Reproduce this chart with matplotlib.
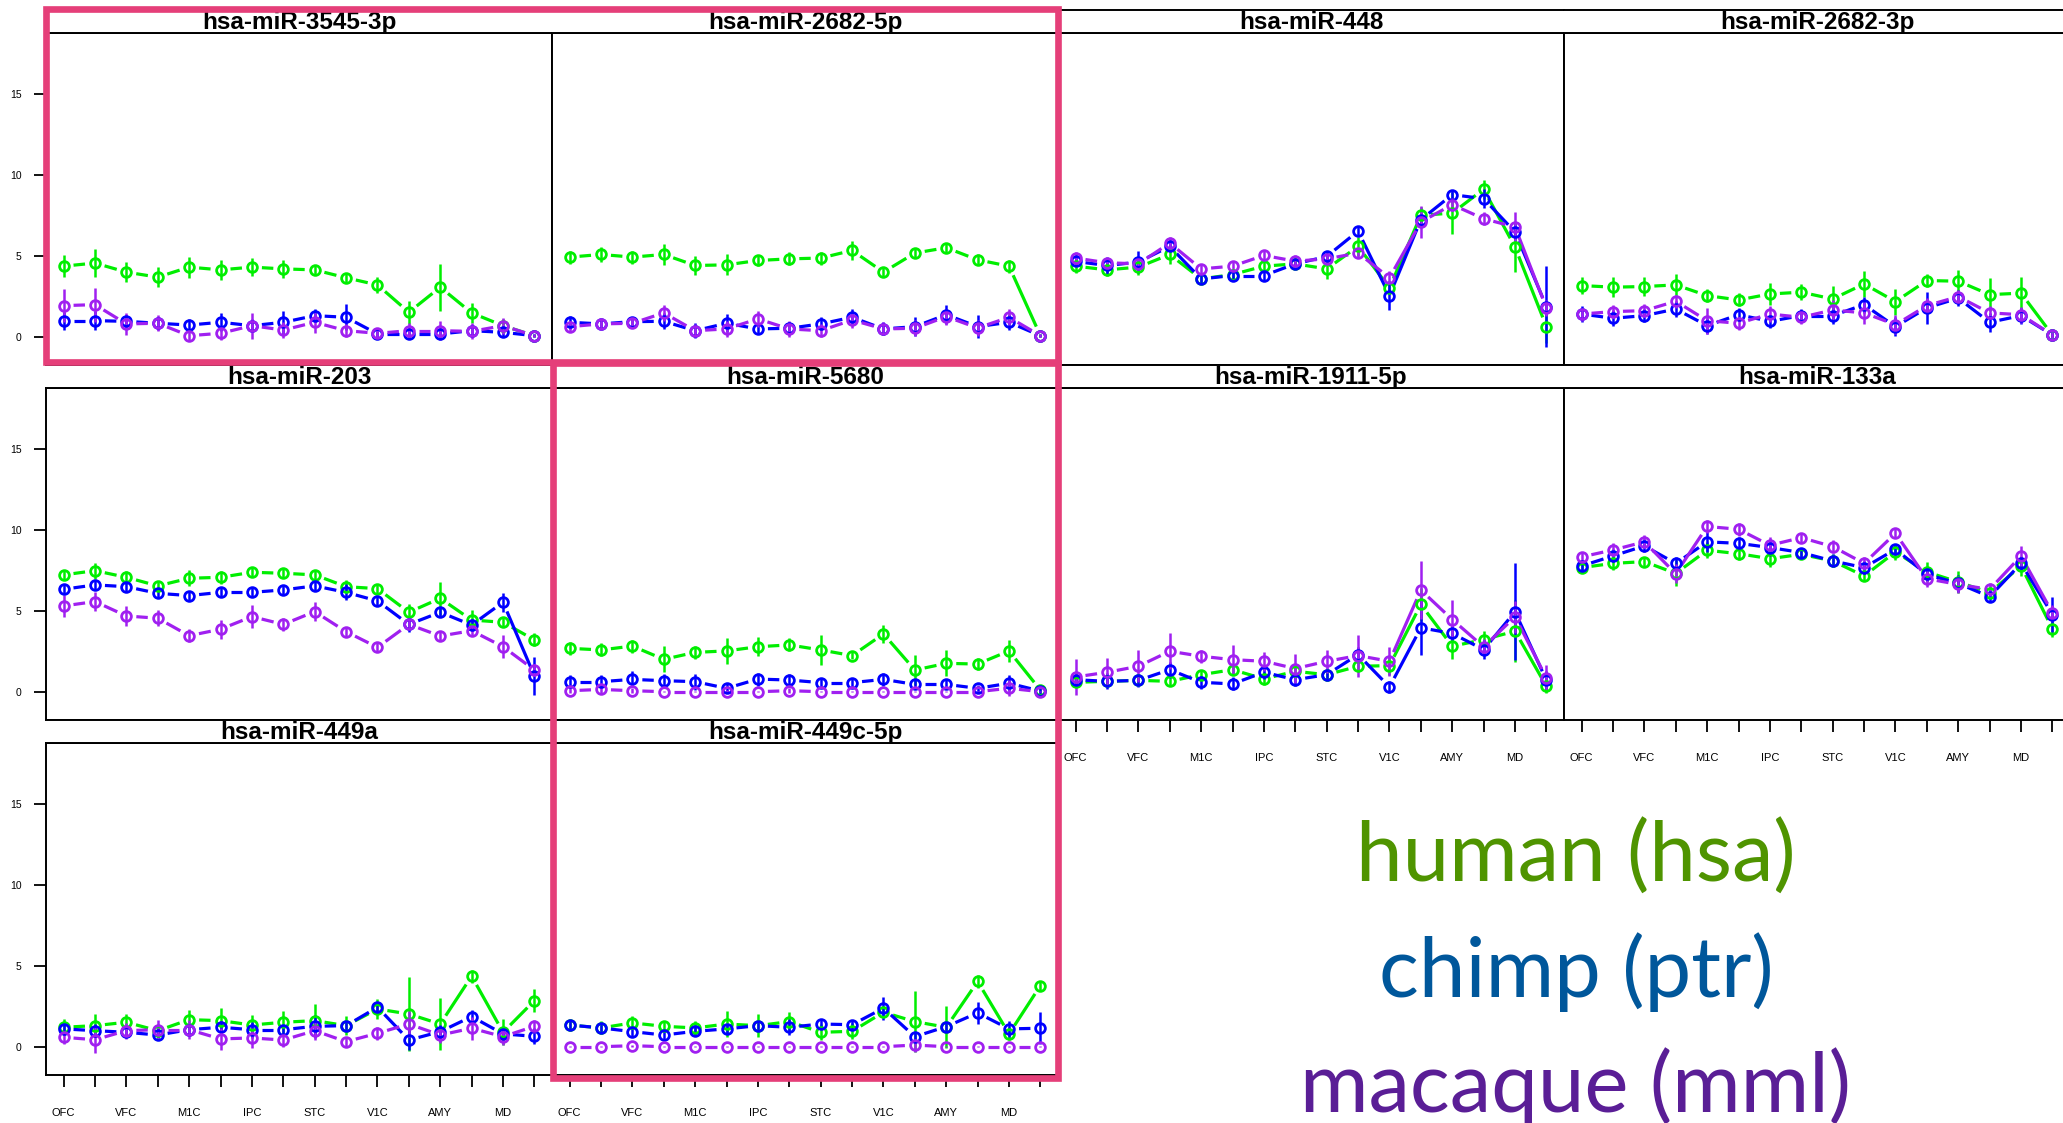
import numpy as np
import matplotlib
matplotlib.use("Agg")
import matplotlib.pyplot as plt
from matplotlib.patches import Rectangle

plt.rcParams["font.family"] = ["Liberation Sans", "DejaVu Sans"]

W, H = 2063, 1123

regions = ["OFC", "DFC", "VFC", "MFC", "M1C", "S1C", "IPC", "A1C",
           "STC", "ITC", "V1C", "HIP", "AMY", "STR", "MD", "CBC"]

mirnas = ["hsa-miR-3545-3p", "hsa-miR-2682-5p", "hsa-miR-448", "hsa-miR-2682-3p",
          "hsa-miR-203", "hsa-miR-5680", "hsa-miR-1911-5p", "hsa-miR-133a",
          "hsa-miR-449a", "hsa-miR-449c-5p"]

# mean expression per region, one row per miRNA
human_mean = [
    [4.36, 4.55, 3.99, 3.68, 4.30, 4.13, 4.30, 4.19, 4.13, 3.64, 3.20, 1.51, 3.06, 1.47, 0.68, 0.06],
    [4.92, 5.08, 4.92, 5.08, 4.40, 4.44, 4.71, 4.81, 4.86, 5.33, 3.99, 5.17, 5.50, 4.75, 4.36, 0.06],
    [4.36, 4.13, 4.30, 5.08, 3.57, 3.84, 4.36, 4.50, 4.19, 5.58, 3.02, 7.50, 7.64, 9.11, 5.54, 0.62],
    [3.16, 3.06, 3.10, 3.20, 2.54, 2.27, 2.64, 2.75, 2.33, 3.26, 2.17, 3.47, 3.43, 2.60, 2.69, 0.10],
    [7.22, 7.48, 7.07, 6.54, 7.01, 7.07, 7.38, 7.32, 7.22, 6.49, 6.37, 4.91, 5.77, 4.43, 4.29, 3.20],
    [2.68, 2.58, 2.82, 2.00, 2.43, 2.52, 2.78, 2.89, 2.58, 2.23, 3.57, 1.34, 1.75, 1.71, 2.52, 0.10],
    [0.58, 0.64, 0.70, 0.64, 1.05, 1.36, 0.79, 1.26, 1.05, 1.57, 1.61, 5.39, 2.81, 3.22, 3.74, 0.33],
    [7.67, 7.93, 8.04, 7.31, 8.74, 8.53, 8.22, 8.49, 8.08, 7.15, 8.64, 7.40, 6.78, 6.12, 7.77, 3.88],
    [1.20, 1.30, 1.51, 0.99, 1.67, 1.61, 1.34, 1.51, 1.61, 1.30, 2.33, 2.02, 1.40, 4.36, 0.89, 2.85],
    [1.34, 1.16, 1.47, 1.26, 1.16, 1.40, 1.30, 1.55, 0.89, 0.95, 2.13, 1.55, 1.20, 4.03, 0.79, 3.78],
]
human_se = [
    [0.67, 0.85, 0.6, 0.6, 0.65, 0.6, 0.55, 0.55, 0.3, 0.3, 0.5, 0.7, 1.45, 0.6, 0.4, 0.1],
    [0.4, 0.45, 0.4, 0.65, 0.6, 0.65, 0.35, 0.4, 0.4, 0.6, 0.3, 0.3, 0.3, 0.35, 0.4, 0.1],
    [0.4, 0.4, 0.5, 0.6, 0.3, 0.3, 0.3, 0.3, 0.6, 0.6, 0.4, 0.5, 1.3, 0.6, 1.55, 1.0],
    [0.5, 0.6, 0.6, 0.7, 0.4, 0.4, 0.7, 0.5, 0.8, 0.8, 0.8, 0.4, 0.7, 1.0, 1.0, 0.2],
    [0.3, 0.5, 0.4, 0.3, 0.5, 0.4, 0.3, 0.3, 0.3, 0.4, 0.3, 0.5, 1.0, 0.6, 0.3, 0.4],
    [0.4, 0.4, 0.4, 0.8, 0.4, 0.8, 0.6, 0.4, 0.95, 0.2, 0.55, 0.9, 0.8, 0.4, 0.7, 0.2],
    [0.3, 0.3, 0.3, 0.3, 0.3, 0.3, 0.4, 0.4, 0.3, 0.3, 0.6, 1.0, 0.8, 0.5, 1.9, 0.4],
    [0.3, 0.4, 0.3, 0.8, 0.5, 0.4, 0.5, 0.3, 0.4, 0.3, 0.5, 0.6, 0.7, 0.4, 0.6, 0.5],
    [0.5, 0.7, 0.5, 0.4, 0.6, 0.8, 0.6, 0.7, 1.0, 0.6, 0.6, 2.3, 1.6, 0.4, 0.8, 0.7],
    [0.4, 0.4, 0.4, 0.3, 0.4, 0.8, 0.7, 0.6, 0.5, 0.5, 0.3, 1.9, 1.3, 0.4, 0.4, 0.3],
]

chimp_mean = [
    [0.99, 0.99, 0.95, 0.83, 0.72, 0.89, 0.68, 0.89, 1.30, 1.20, 0.17, 0.17, 0.17, 0.37, 0.27, 0.06],
    [0.89, 0.79, 0.93, 0.95, 0.37, 0.83, 0.48, 0.52, 0.79, 1.20, 0.48, 0.62, 1.36, 0.62, 0.89, 0.06],
    [4.65, 4.40, 4.61, 5.58, 3.57, 3.78, 3.78, 4.50, 4.96, 6.53, 2.54, 7.23, 8.78, 8.53, 6.47, 1.86],
    [1.40, 1.14, 1.30, 1.71, 0.68, 1.36, 0.95, 1.30, 1.30, 1.98, 0.62, 1.78, 2.38, 0.89, 1.30, 0.10],
    [6.33, 6.60, 6.49, 6.08, 5.94, 6.14, 6.14, 6.29, 6.54, 6.14, 5.61, 4.16, 4.91, 4.12, 5.53, 0.97],
    [0.62, 0.62, 0.76, 0.68, 0.62, 0.21, 0.78, 0.72, 0.56, 0.56, 0.76, 0.45, 0.45, 0.21, 0.52, 0.04],
    [0.74, 0.64, 0.70, 1.36, 0.58, 0.48, 1.20, 0.74, 1.05, 2.29, 0.29, 3.95, 3.60, 2.60, 4.94, 0.70],
    [7.77, 8.39, 9.01, 7.93, 9.26, 9.17, 8.91, 8.60, 8.08, 7.67, 8.80, 7.25, 6.69, 5.87, 7.93, 4.77],
    [1.10, 0.99, 0.89, 0.72, 1.05, 1.20, 1.05, 1.05, 1.26, 1.30, 2.44, 0.41, 0.93, 1.86, 0.79, 0.64],
    [1.34, 1.16, 0.93, 0.72, 0.95, 1.10, 1.30, 1.20, 1.40, 1.36, 2.38, 0.62, 1.24, 2.09, 1.10, 1.14],
]
chimp_se = [
    [0.55, 0.6, 0.4, 0.4, 0.35, 0.55, 0.4, 0.7, 0.4, 0.8, 0.2, 0.3, 0.3, 0.3, 0.3, 0.1],
    [0.4, 0.3, 0.3, 0.5, 0.45, 0.55, 0.3, 0.4, 0.4, 0.5, 0.4, 0.6, 0.6, 0.7, 0.5, 0.1],
    [0.3, 0.5, 0.7, 0.3, 0.3, 0.3, 0.3, 0.3, 0.3, 0.3, 0.9, 0.3, 0.3, 0.6, 0.5, 2.5],
    [0.5, 0.5, 0.4, 0.5, 0.5, 0.4, 0.4, 0.4, 0.5, 0.5, 0.6, 1.0, 0.5, 0.6, 0.5, 0.2],
    [0.3, 0.3, 0.3, 0.3, 0.3, 0.3, 0.3, 0.3, 0.3, 0.5, 0.3, 0.5, 0.3, 0.4, 0.6, 1.2],
    [0.4, 0.4, 0.5, 0.4, 0.5, 0.3, 0.4, 0.4, 0.3, 0.3, 0.4, 0.3, 0.3, 0.2, 0.5, 0.2],
    [0.4, 0.5, 0.4, 0.5, 0.4, 0.4, 0.4, 0.4, 0.4, 0.5, 0.4, 1.7, 0.5, 0.6, 3.0, 0.6],
    [0.3, 0.4, 0.4, 0.4, 0.6, 0.4, 0.5, 0.3, 0.4, 0.4, 0.3, 0.4, 0.5, 0.3, 0.4, 1.1],
    [0.4, 0.4, 0.3, 0.3, 0.3, 0.4, 0.5, 0.3, 0.7, 0.3, 0.3, 0.6, 0.4, 0.4, 0.4, 0.5],
    [0.3, 0.3, 0.3, 0.3, 0.3, 0.3, 0.3, 0.5, 0.3, 0.3, 0.7, 0.3, 0.3, 0.7, 0.5, 1.0],
]

macaque_mean = [
    [1.92, 1.98, 0.79, 0.83, 0.06, 0.21, 0.68, 0.41, 0.89, 0.37, 0.21, 0.37, 0.37, 0.33, 0.68, 0.06],
    [0.62, 0.79, 0.83, 1.47, 0.37, 0.48, 1.10, 0.48, 0.37, 1.03, 0.48, 0.52, 1.24, 0.54, 1.20, 0.06],
    [4.86, 4.57, 4.50, 5.79, 4.19, 4.36, 5.02, 4.67, 4.81, 5.17, 3.64, 7.09, 8.16, 7.29, 6.78, 1.78],
    [1.40, 1.55, 1.61, 2.19, 0.99, 0.83, 1.40, 1.20, 1.65, 1.47, 0.74, 1.92, 2.48, 1.47, 1.36, 0.10],
    [5.30, 5.57, 4.68, 4.54, 3.46, 3.86, 4.64, 4.16, 4.95, 3.71, 2.74, 4.16, 3.44, 3.77, 2.78, 1.34],
    [0.06, 0.14, 0.06, 0.00, 0.00, 0.00, 0.00, 0.06, 0.00, 0.00, 0.00, 0.00, 0.00, 0.00, 0.21, 0.00],
    [0.91, 1.20, 1.57, 2.50, 2.19, 1.98, 1.88, 1.43, 1.88, 2.23, 1.88, 6.28, 4.46, 2.77, 4.63, 0.85],
    [8.33, 8.76, 9.26, 7.29, 10.21, 10.04, 9.05, 9.52, 8.97, 7.93, 9.79, 6.98, 6.63, 6.32, 8.39, 4.88],
    [0.58, 0.43, 0.99, 1.05, 1.05, 0.48, 0.54, 0.41, 0.99, 0.31, 0.83, 1.40, 0.72, 1.14, 0.62, 1.26],
    [0.00, 0.00, 0.06, 0.00, 0.00, 0.00, 0.00, 0.00, 0.00, 0.00, 0.00, 0.10, 0.00, 0.00, 0.00, 0.00],
]
macaque_se = [
    [1.0, 1.05, 0.7, 0.5, 0.3, 0.4, 0.8, 0.5, 0.65, 0.4, 0.2, 0.5, 0.6, 0.5, 0.5, 0.1],
    [0.35, 0.3, 0.3, 0.5, 0.4, 0.5, 0.5, 0.5, 0.4, 0.5, 0.4, 0.5, 0.5, 0.5, 0.5, 0.1],
    [0.4, 0.3, 0.3, 0.4, 0.3, 0.3, 0.3, 0.4, 0.3, 0.3, 0.4, 1.0, 0.4, 0.4, 0.9, 0.5],
    [0.4, 0.4, 0.4, 0.4, 0.8, 0.4, 0.5, 0.4, 0.6, 0.7, 0.6, 0.5, 0.4, 0.4, 0.5, 0.2],
    [0.7, 0.6, 0.6, 0.5, 0.4, 0.6, 0.7, 0.4, 0.6, 0.3, 0.3, 0.3, 0.3, 0.3, 0.7, 0.4],
    [0.15, 0.3, 0.15, 0.05, 0.05, 0.1, 0.05, 0.15, 0.05, 0.05, 0.05, 0.05, 0.05, 0.05, 0.5, 0.05],
    [1.1, 0.9, 1.0, 1.1, 0.4, 0.9, 0.6, 0.9, 0.7, 1.3, 0.9, 1.8, 1.2, 0.5, 1.0, 0.8],
    [0.3, 0.4, 0.4, 0.6, 0.4, 0.4, 0.5, 0.3, 0.4, 0.4, 0.3, 0.5, 0.5, 0.4, 0.6, 0.5],
    [0.4, 0.8, 0.5, 0.6, 0.6, 0.7, 0.6, 0.4, 0.6, 0.3, 0.4, 0.8, 0.5, 0.7, 0.5, 0.4],
    [0.05, 0.05, 0.05, 0.05, 0.05, 0.05, 0.05, 0.05, 0.05, 0.05, 0.05, 0.4, 0.05, 0.05, 0.05, 0.05],
]

species = [
    ("human (hsa)", human_mean, human_se, "#00ee00", "#4f9400"),
    ("chimp (ptr)", chimp_mean, chimp_se, "#0000ff", "#00579b"),
    ("macaque (mml)", macaque_mean, macaque_se, "#a020f0", "#5a1e96"),
]

XLIM = (0.44, 16.56)
YLIM = (-1.75, 18.77)
GAP = 10.0  # px left open between a point and its connecting line

fig = plt.figure(figsize=(W / 100, H / 100), dpi=100)
fig.patch.set_facecolor("white")


def px_rect(left, top, width, height):
    return [left / W, 1 - (top + height) / H, width / W, height / H]


def gapped_lines(ax, x, y, color, box_w, box_h):
    # type="b" style: segments stop short of each point
    sx = box_w / (XLIM[1] - XLIM[0])
    sy = box_h / (YLIM[1] - YLIM[0])
    for i in range(len(x) - 1):
        dx = (x[i + 1] - x[i]) * sx
        dy = (y[i + 1] - y[i]) * sy
        length = np.hypot(dx, dy)
        if length <= 2 * GAP:
            continue
        ux, uy = dx / length * GAP / sx, dy / length * GAP / sy
        ax.plot([x[i] + ux, x[i + 1] - ux], [y[i] + uy, y[i + 1] - uy],
                color=color, lw=2.3, solid_capstyle="butt", zorder=3)


col_left = [46, 552, 1058, 1564]
col_w = 506
panel_top = [33, 388, 743]
panel_h = 332
strip_h = 23
x = np.arange(1, 17)

for k, name in enumerate(mirnas):
    row, col = divmod(k, 4)
    left, top = col_left[col], panel_top[row]

    ax = fig.add_axes(px_rect(left, top, col_w, panel_h))
    ax.set_xlim(*XLIM)
    ax.set_ylim(*YLIM)
    for sp in ax.spines.values():
        sp.set_linewidth(1.4)

    for label, means, ses, color, _ in species:
        m = np.array(means[k])
        e = np.array(ses[k])
        gapped_lines(ax, x, m, color, col_w, panel_h)
        ax.vlines(x, m - e, m + e, color=color, lw=1.8, zorder=4)
        ax.plot(x, m, "o", ms=7.0, mfc="none", mec=color, mew=2.0, zorder=5)

    ax.set_xticks(x)
    ax.set_xticklabels([r if i % 2 == 0 else "" for i, r in enumerate(regions)])
    ax.tick_params(axis="x", length=8.6, width=1.3, pad=15, labelsize=8)
    ax.set_yticks([0, 5, 10, 15])
    ax.tick_params(axis="y", length=8.6, width=1.3, pad=9, labelsize=7.5)

    bottom_row = row == 2 or (row == 1 and col >= 2)
    if not bottom_row:
        ax.tick_params(axis="x", bottom=False, labelbottom=False)
    if col != 0:
        ax.tick_params(axis="y", left=False, labelleft=False)

    # strip with the miRNA name
    st = fig.add_axes(px_rect(left, top - strip_h, col_w, strip_h))
    st.set_xticks([])
    st.set_yticks([])
    st.spines["left"].set_visible(False)
    st.spines["right"].set_visible(False)
    st.spines["top"].set_linewidth(1.4)
    st.spines["bottom"].set_linewidth(1.4)
    st.text(0.5, 0.45, name, ha="center", va="center", fontsize=17.5,
            fontweight="bold", transform=st.transAxes)

# overlay in pixel coordinates for highlight boxes and the species key
ov = fig.add_axes([0, 0, 1, 1], zorder=10)
ov.set_xlim(0, W)
ov.set_ylim(H, 0)
ov.axis("off")

pink = "#e53f79"
ov.add_patch(Rectangle((45.5, 9), 1057.5 - 45.5, 362 - 9, fill=False,
                       ec=pink, lw=4.8))
ov.add_patch(Rectangle((553, 363), 1057.5 - 553, 1078 - 363, fill=False,
                       ec=pink, lw=4.8))

baselines = [882, 997, 1112]
for (label, _, _, _, text_color), yb in zip(species, baselines):
    ov.text(1576, yb, label, ha="center", va="baseline", fontsize=60,
            color=text_color, family=["Lato", "DejaVu Sans"])

fig.savefig("out.png", dpi=100)
